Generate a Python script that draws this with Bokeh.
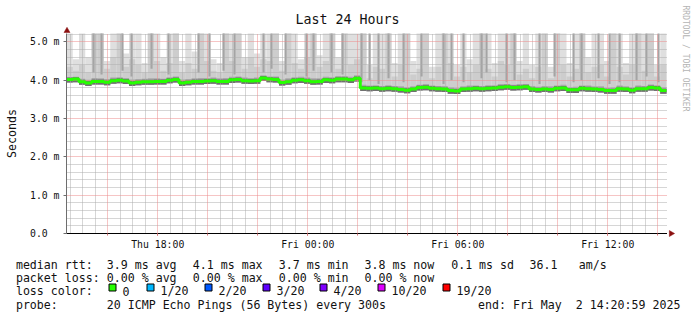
import math
from bokeh.plotting import figure
from bokeh.layouts import column, row
from bokeh.models import Range1d, FixedTicker, Grid, ColumnDataSource
from bokeh.core.properties import value
from bokeh.embed import file_html
from bokeh.resources import INLINE

# ------------------------------------------------------------------ data
start_hour = -9.65          # Thu 14:21, hours relative to Fri 00:00
step_hours = 0.25           # one value per 15 minutes
probe_step_minutes = 5      # 300 s probe interval

median_ms = [
    4.02, 4.03, 3.96, 3.93, 3.97, 3.97, 3.95, 3.99, 4.00, 3.98,
    3.93, 3.95, 3.96, 3.96, 3.97, 3.97, 4.00, 4.02, 3.93, 3.95,
    3.97, 3.97, 3.98, 3.99, 3.97, 3.97, 4.01, 4.02, 3.99, 3.98,
    3.99, 4.06, 4.03, 4.02, 3.94, 3.96, 4.00, 4.01, 3.99, 3.96,
    3.97, 4.01, 4.00, 4.03, 4.03, 4.01, 4.05, 3.80, 3.79, 3.80,
    3.78, 3.79, 3.78, 3.76, 3.74, 3.77, 3.81, 3.82, 3.79, 3.78,
    3.77, 3.73, 3.72, 3.77, 3.78, 3.79, 3.78, 3.79, 3.80, 3.82,
    3.83, 3.81, 3.82, 3.83, 3.77, 3.76, 3.77, 3.76, 3.79, 3.80,
    3.75, 3.75, 3.79, 3.78, 3.77, 3.76, 3.73, 3.73, 3.78, 3.77,
    3.74, 3.78, 3.78, 3.81, 3.80, 3.73,
]
smoke_min_ms = [
    3.94, 3.95, 3.88, 3.85, 3.89, 3.89, 3.87, 3.91, 3.92, 3.90,
    3.85, 3.87, 3.88, 3.88, 3.89, 3.89, 3.92, 3.94, 3.85, 3.87,
    3.89, 3.89, 3.90, 3.91, 3.89, 3.89, 3.93, 3.94, 3.91, 3.90,
    3.91, 3.98, 3.95, 3.94, 3.86, 3.88, 3.92, 3.93, 3.91, 3.88,
    3.89, 3.93, 3.92, 3.95, 3.95, 3.93, 3.97, 3.72, 3.71, 3.72,
    3.70, 3.71, 3.70, 3.68, 3.66, 3.69, 3.73, 3.74, 3.71, 3.70,
    3.69, 3.65, 3.64, 3.69, 3.70, 3.71, 3.70, 3.71, 3.72, 3.74,
    3.75, 3.73, 3.74, 3.75, 3.69, 3.68, 3.69, 3.68, 3.71, 3.72,
    3.67, 3.67, 3.71, 3.70, 3.69, 3.68, 3.65, 3.65, 3.70, 3.69,
    3.66, 3.70, 3.70, 3.73, 3.72, 3.65,
]
smoke_p75_ms = [
    4.08, 4.09, 4.04, 4.01, 4.06, 4.05, 4.03, 4.07, 4.08, 4.06,
    4.02, 4.03, 4.04, 4.05, 4.05, 4.04, 4.08, 4.10, 4.02, 4.03,
    4.05, 4.06, 4.06, 4.07, 4.05, 4.06, 4.09, 4.10, 4.07, 4.06,
    4.07, 4.13, 4.10, 4.10, 4.02, 4.05, 4.08, 4.09, 4.07, 4.05,
    4.05, 4.09, 4.08, 4.11, 4.11, 4.09, 4.13, 3.88, 3.86, 3.87,
    3.85, 3.87, 3.85, 3.84, 3.82, 3.84, 3.88, 3.90, 3.86, 3.85,
    3.85, 3.81, 3.80, 3.84, 3.86, 3.86, 3.85, 3.87, 3.87, 3.90,
    3.90, 3.88, 3.90, 3.90, 3.85, 3.83, 3.85, 3.84, 3.86, 3.88,
    3.82, 3.83, 3.86, 3.86, 3.84, 3.84, 3.80, 3.81, 3.86, 3.84,
    3.82, 3.86, 3.85, 3.89, 3.87, 3.81,
]
smoke_p90_ms = [
    4.35, 4.25, 4.40, 4.20, 5.30, 5.30, 4.30, 4.60, 5.30, 4.35,
    4.55, 4.40, 4.20, 5.30, 4.50, 4.25, 4.45, 5.30, 4.20, 4.45,
    4.30, 5.30, 4.50, 4.25, 4.20, 5.30, 4.50, 5.30, 4.30, 4.60,
    4.35, 4.55, 4.50, 5.30, 4.25, 5.30, 4.45, 4.30, 4.60, 5.30,
    4.35, 4.50, 5.30, 4.30, 5.30, 4.40, 4.55, 5.30, 4.05, 4.35,
    4.30, 5.30, 4.10, 4.40, 5.30, 4.15, 4.30, 5.30, 4.05, 4.35,
    5.30, 4.45, 4.10, 4.35, 4.20, 4.40, 5.30, 4.30, 4.10, 4.50,
    4.40, 5.30, 4.15, 4.30, 4.05, 4.35, 5.30, 4.05, 5.30, 4.40,
    4.10, 4.30, 5.30, 4.20, 4.35, 4.40, 4.10, 5.30, 4.35, 4.15,
    4.40, 5.30, 4.25, 5.30, 4.10, 4.40,
]
smoke_max_ms = [
    5.30, 4.55, 5.30, 4.60, 5.30, 5.30, 4.50, 5.30, 5.30, 4.70,
    5.30, 5.30, 4.45, 5.30, 5.30, 4.60, 5.30, 5.30, 4.50, 5.30,
    4.75, 5.30, 5.30, 4.55, 4.45, 5.30, 5.30, 5.30, 4.60, 5.30,
    4.70, 5.30, 5.30, 5.30, 4.50, 5.30, 5.30, 4.55, 5.30, 5.30,
    4.65, 5.30, 5.30, 4.60, 5.30, 5.30, 5.30, 5.30, 4.40, 5.30,
    5.30, 5.30, 4.45, 5.30, 5.30, 4.50, 5.30, 5.30, 4.35, 5.30,
    5.30, 5.30, 4.40, 5.30, 4.55, 5.30, 5.30, 5.30, 4.45, 5.30,
    5.30, 5.30, 4.50, 5.30, 4.40, 5.30, 5.30, 4.35, 5.30, 5.30,
    4.45, 5.30, 5.30, 4.60, 5.30, 5.30, 4.50, 5.30, 5.30, 4.45,
    5.30, 5.30, 5.30, 5.30, 4.40, 5.30,
]
# single probe rounds where most pings were slow (dark streaks)
dark_spike_hours = [
    -8.61, -8.29, -7.45, -7.09, -6.29, -5.61, -4.41, -3.97, -3.41, -2.97,
    -1.81, -1.49, -0.93, -0.09, 0.19, 0.91, 1.35, 2.11, 2.43, 2.79,
    3.19, 3.79, 4.51, 5.39, 5.71, 6.19, 6.91, 7.11, 7.91, 8.23,
    9.23, 9.83, 10.59, 10.91, 11.59, 12.03, 12.43, 13.11, 13.51, 13.99,
]
dark_spike_low_ms = [
    4.20, 4.15, 4.25, 4.10, 4.30, 4.15, 4.20, 4.10, 4.25, 4.15,
    4.20, 4.30, 4.15, 4.10, 4.25, 4.20, 4.15, 3.95, 4.00, 3.90,
    4.05, 3.95, 4.10, 3.90, 4.00, 3.95, 4.05, 4.20, 3.95, 4.00,
    3.90, 4.10, 3.95, 4.00, 4.05, 3.90, 3.95, 4.00, 4.10, 3.95,
]
dark_spike_high_ms = [5.30] * len(dark_spike_hours)   # clipped at graph top

x_tick_hours = [-6, 0, 6, 12]
x_tick_labels = ["Thu 18:00", "Fri 00:00", "Fri 06:00", "Fri 12:00"]
y_tick_values = [0, 1, 2, 3, 4, 5]
y_tick_labels = ["0.0\u00a0\u00a0", "1.0 m", "2.0 m", "3.0 m", "4.0 m", "5.0 m"]
y_max_ms = 5.22

title_text = "Last 24 Hours"
y_title = "Seconds"
watermark_text = "RRDTOOL / TOBI OETIKER"

rtt_values = [3.9, 4.1, 3.7, 3.8, 0.1]
rtt_kinds = ["avg", "max", "min", "now", "sd"]
am_s_value = 36.1
loss_values = [0.00, 0.00, 0.00, 0.00]
loss_kinds = ["avg", "max", "min", "now"]
loss_labels = ["0", "1/20", "2/20", "3/20", "4/20", "10/20", "19/20"]
loss_colors = ["#26ff00", "#00b8ff", "#0059ff", "#5e00ff", "#7e00ff", "#dd00ff", "#ff0000"]
probe_text = "20 ICMP Echo Pings (56 Bytes) every 300s"
end_text = "end: Fri May  2 14:20:59 2025"

# ------------------------------------------------------------------ layout constants
W, H = 697, 315
FL, FR, FT, FB = 66, 667, 33, 233          # graph frame edges (canvas px)
FOOT = 254                                  # top of the legend block
PX_PER_H = 25.0
x_lo = start_hour
x_hi = start_hour + (FR - FL) / PX_PER_H
MONO = "DejaVu Sans Mono"
ARROW = "#8b1010"
TXT = "#111111"


def bare(fig):
    fig.outline_line_color = None
    fig.xgrid.visible = False
    fig.ygrid.visible = False
    fig.frame_align = False
    return fig


def blank(w, h, xr, yr):
    return bare(figure(width=w, height=h, output_backend="svg", toolbar_location=None,
                       x_range=Range1d(*xr), y_range=Range1d(*yr),
                       x_axis_location=None, y_axis_location=None, min_border=0,
                       background_fill_color="white", border_fill_color="white"))

# ------------------------------------------------------------------ header (title + y arrow)
hdr = blank(FR, FT, (0, FR), (FT, 0))      # data = canvas pixels
hdr.text(x=[347], y=[18.5], text=[title_text], text_font=value(MONO),
         text_font_size="13.3px", text_align="center", text_baseline="alphabetic",
         text_color=TXT)
hdr.scatter(x=[66.5], y=[30.3], marker="triangle", size=6,
            fill_color=ARROW, line_color=ARROW, line_width=0.5)

# ------------------------------------------------------------------ main graph
p = bare(figure(width=FR, height=FOOT - FT, output_backend="svg", toolbar_location=None,
                x_range=Range1d(x_lo, x_hi), y_range=Range1d(0, y_max_ms),
                min_border_left=FL, min_border_right=0,
                min_border_top=0, min_border_bottom=FOOT - FB,
                background_fill_color="white", border_fill_color="white"))

n = len(median_ms)
lefts = [start_hour + i * step_hours for i in range(n)]
rights = [l + step_hours for l in lefts]
src = ColumnDataSource(dict(left=lefts, right=rights, lo=smoke_min_ms, p75=smoke_p75_ms,
                            p90=smoke_p90_ms, hi=smoke_max_ms,
                            band=[m + 0.05 for m in median_ms]))

for top, col in [("hi", "#dfdfdf"), ("p90", "#cdcdcd"), ("p75", "#a8a8a8")]:
    p.quad(left="left", right="right", bottom="lo", top=top, source=src,
           fill_color=col, line_color=None, level="image")

spk = ColumnDataSource(dict(left=dark_spike_hours,
                            right=[h + probe_step_minutes / 60 for h in dark_spike_hours],
                            lo=dark_spike_low_ms, hi=dark_spike_high_ms))
p.quad(left="left", right="right", bottom="lo", top="hi", source=spk,
       fill_color="#a4a4a4", line_color=None, level="image")
p.quad(left="left", right="right", bottom="lo", top="band", source=src,
       fill_color="#707070", line_color=None, level="image")

minor_x = [h / 2 for h in range(int(math.ceil(x_lo * 2)), int(x_hi * 2) + 1) if h % 4 != 0]
major_x = [h for h in range(int(math.ceil(x_lo)), int(x_hi) + 1) if h % 2 == 0]
minor_y = [k / 5 for k in range(1, int(y_max_ms * 5) + 1) if k % 5 != 0]
major_y = [k for k in range(1, int(y_max_ms) + 1)]
for dim, ticks, col in [(0, minor_x, "#acacac"), (1, minor_y, "#acacac"),
                        (0, major_x, "#ec8a8a"), (1, major_y, "#ec8a8a")]:
    p.add_layout(Grid(dimension=dim, ticker=FixedTicker(ticks=ticks),
                      grid_line_color=col, grid_line_dash="1 1", grid_line_width=1))

p.step(x=lefts + [rights[-1]], y=median_ms + [median_ms[-1]], mode="after",
       line_color=loss_colors[0], line_width=3)

xa = p.xaxis[0]
xa.ticker = FixedTicker(ticks=x_tick_hours, minor_ticks=major_x)
xa.major_label_overrides = {h: l for h, l in zip(x_tick_hours, x_tick_labels)}
xa.axis_line_color = "black"
xa.major_tick_out = 2
xa.major_tick_in = 0
xa.minor_tick_out = 2
xa.minor_tick_in = 0
xa.major_tick_line_color = "#d87070"
xa.minor_tick_line_color = "#d87070"
xa.major_label_standoff = 3
xa.major_label_text_font = MONO
xa.major_label_text_font_size = "9.8px"
xa.major_label_text_color = TXT

ya = p.yaxis[0]
ya.ticker = FixedTicker(ticks=y_tick_values, minor_ticks=[])
ya.major_label_overrides = {v: l for v, l in zip(y_tick_values, y_tick_labels)}
ya.axis_line_color = "#6e6e6e"
ya.major_tick_out = 3
ya.major_tick_in = 0
ya.major_tick_line_color = "#6e6e6e"
ya.major_label_standoff = 4
ya.major_label_text_font = MONO
ya.major_label_text_font_size = "9.8px"
ya.major_label_text_color = TXT
ya.axis_label = y_title
ya.axis_label_text_font = MONO
ya.axis_label_text_font_size = "11.6px"
ya.axis_label_text_font_style = "normal"
ya.axis_label_text_color = TXT
ya.axis_label_standoff = 8

# ------------------------------------------------------------------ right strip (watermark + x arrow)
strip = blank(W - FR, FOOT, (FR, W), (FOOT, 0))
strip.text(x=[685], y=[5], text=[watermark_text], text_font=value(MONO),
           text_font_size="8px", text_align="left", text_baseline="middle",
           angle=-math.pi / 2, text_color="#b4b4b4")
strip.scatter(x=[670.6], y=[FB], marker="triangle", size=6, angle=-math.pi / 2,
              fill_color=ARROW, line_color=ARROW, line_width=0.5)

# ------------------------------------------------------------------ legend block
q = blank(W, H - FOOT, (0, W), (H, FOOT))


def spaced(s):
    return s.replace("  ", " \u00a0")


line_y = [264.0, 277.4, 290.7, 304.0]
seg_x, seg_y, seg_t = [], [], []
l1 = ["median rtt:"] + [f"{v:.1f} ms {k}" for v, k in zip(rtt_values, rtt_kinds)] + [f"{am_s_value:.1f}", "am/s"]
l1x = [15.4, 106.3, 192.3, 278.3, 364.0, 450.7, 529.0, 578.3]
l2 = ["packet loss:"] + [f"{v:.2f} % {k}" for v, k in zip(loss_values, loss_kinds)]
l2x = [15.4, 106.3, 192.3, 278.3, 364.0]
sq_left = [108, 146, 204, 262, 319, 377, 442]
l3 = ["loss color:"] + loss_labels
l3x = [15.4] + [s + 14 for s in sq_left]
l4 = ["probe:", probe_text, spaced(end_text)]
l4x = [15.4, 106.3, 477.5]
for r, (texts, xs) in enumerate([(l1, l1x), (l2, l2x), (l3, l3x), (l4, l4x)]):
    for t, x in zip(texts, xs):
        seg_x.append(x)
        seg_y.append(line_y[r])
        seg_t.append(t)

q.text(x=seg_x, y=seg_y, text=seg_t, text_font=value(MONO), text_font_size="11.6px",
       text_baseline="alphabetic", text_align="left", text_color=TXT)
q.rect(x=[s + 4 for s in sq_left], y=[287.0] * len(sq_left), width=7, height=7,
       fill_color=loss_colors, line_color="black", line_width=1)

layout = column(row(column(hdr, p, spacing=0), strip, spacing=0), q, spacing=0)
open("out.html", "w").write(file_html(layout, INLINE))
